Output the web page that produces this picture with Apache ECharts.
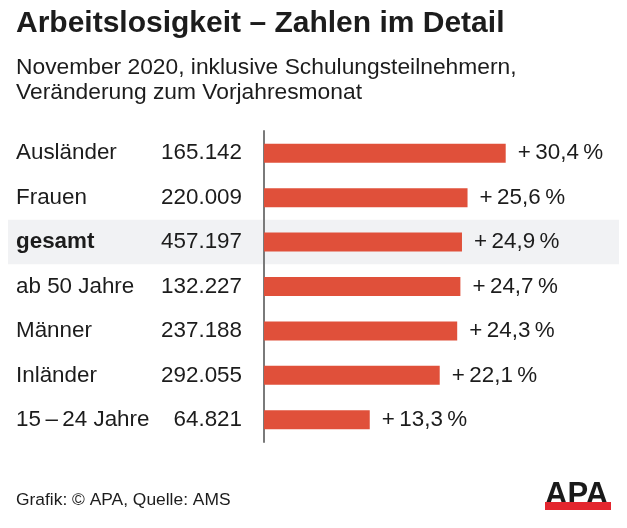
<!DOCTYPE html>
<html>
<head>
<meta charset="utf-8">
<script src="https://cdn.jsdelivr.net/npm/echarts@6/dist/echarts.min.js"></script>
<style>
html,body{margin:0;padding:0;background:#fff;}
#chart{width:627px;height:528px;}
</style>
</head>
<body>
<div id="chart"></div>
<script>
// Data
var categories = ['Ausländer', 'Frauen', 'gesamt', 'ab 50 Jahre', 'Männer', 'Inländer', '15\u2009\u2013\u200924 Jahre'];
var counts = [165142, 220009, 457197, 132227, 237188, 292055, 64821];
var changes = [30.4, 25.6, 24.9, 24.7, 24.3, 22.1, 13.3];
var highlight = 'gesamt';

var titleText = 'Arbeitslosigkeit \u2013 Zahlen im Detail';
var subtitleLines = ['November 2020, inklusive Schulungsteilnehmern,', 'Veränderung zum Vorjahresmonat'];
var sourceText = 'Grafik: \u00a9 APA, Quelle: AMS';

var FONT = '"Liberation Sans", Arial, sans-serif';
var TXT = '#1c1c1c';

function fmtCount(v) {
  return String(v).replace(/\B(?=(\d{3})+(?!\d))/g, '.');
}
function fmtChange(v) {
  return '+\u2009' + v.toFixed(1).replace('.', ',') + '\u2009%';
}

var splitColors = categories.map(function (c) { return c === highlight ? '#f1f2f4' : 'rgba(255,255,255,0)'; });

var chart = echarts.init(document.getElementById('chart'), null, {renderer: 'canvas'});
chart.setOption({
  backgroundColor: '#ffffff',
  animation: false,
  grid: {left: 8, right: 8, top: 131, bottom: 86, containLabel: false, outerBoundsMode: 'none'},
  xAxis: {
    type: 'value', min: -32.2, max: 44.65, show: false
  },
  yAxis: {
    type: 'category',
    inverse: true,
    data: categories,
    axisLine: {show: true, onZero: true, lineStyle: {color: '#7a7a7a', width: 2}},
    axisTick: {show: false},
    splitLine: {show: false},
    splitArea: {show: true, areaStyle: {color: splitColors}},
    axisLabel: {
      margin: -234,
      formatter: function (value, idx) {
        var key = value === highlight ? 'nb' : 'n';
        return '{' + key + '|' + value + '}{v|' + fmtCount(counts[idx]) + '}';
      },
      rich: {
        n: {width: 136, align: 'left', fontSize: 22.4, fontFamily: FONT, color: TXT},
        nb: {width: 136, align: 'left', fontSize: 22.4, fontFamily: FONT, fontWeight: 'bold', color: TXT},
        v: {width: 90, align: 'right', fontSize: 22.4, fontFamily: FONT, color: TXT}
      }
    }
  },
  series: [{
    type: 'bar',
    data: changes,
    barWidth: 19,
    itemStyle: {color: '#e0503a'},
    label: {
      show: true,
      position: 'right',
      distance: 12,
      fontSize: 22.4,
      fontFamily: FONT,
      color: TXT,
      formatter: function (p) { return fmtChange(p.value); }
    }
  }],
  graphic: [
    {type: 'text', left: 16, top: 9, style: {text: titleText, font: 'bold 30px ' + FONT, fill: TXT}},
    {type: 'text', left: 16, top: 55, style: {text: subtitleLines.join('\n'), font: '22.8px ' + FONT, lineHeight: 25, fill: TXT}},
    {type: 'text', left: 16, top: 492, style: {text: sourceText, font: '17.4px ' + FONT, fill: TXT}},
    {type: 'group', left: 545, top: 480, children: [
      {type: 'text', x: 0, y: 0, style: {text: 'APA', font: 'bold 31px ' + FONT, fill: '#1a1a1a'}},
      {type: 'rect', shape: {x: 0, y: 22, width: 66, height: 8}, style: {fill: '#e3262e'}}
    ]}
  ]
});
</script>
</body>
</html>
